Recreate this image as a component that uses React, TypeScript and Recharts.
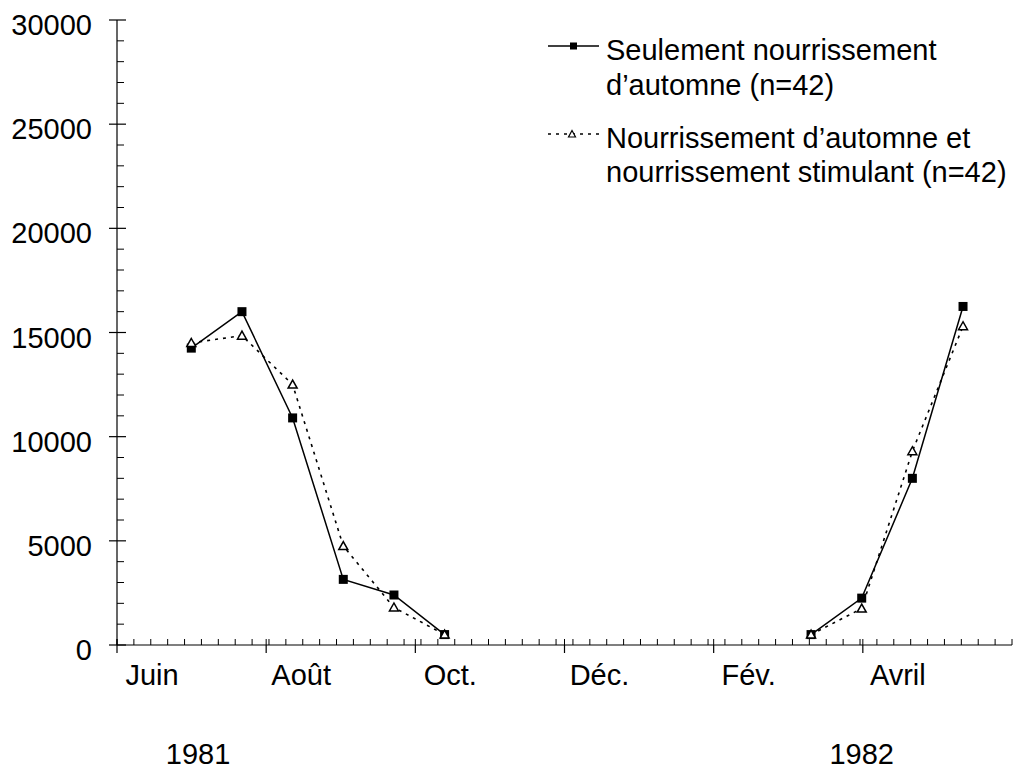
import { LineChart, Line, XAxis, YAxis } from "recharts";

// semaines depuis le 1er juin 1981 (53 semaines sur l'axe)
const WEEKS_1981 = [4.4, 7.4, 10.4, 13.4, 16.4, 19.4];
const WEEKS_1982 = [41.1, 44.1, 47.1, 50.1];

const AUTOMNE_1981 = [14250, 16000, 10900, 3150, 2400, 500];
const AUTOMNE_1982 = [500, 2250, 8000, 16250];
const STIMULANT_1981 = [14500, 14850, 12500, 4750, 1800, 500];
const STIMULANT_1982 = [500, 1750, 9300, 15300];

const MONTH_LABELS = ["Juin", "Août", "Oct.", "Déc.", "Fév.", "Avril"];
const MONTH_INDEX = [0, 2, 4, 6, 8, 10];
const YEAR_LABELS = ["1981", "1982"];
const YEAR_WEEKS = [4.8, 44.1];

const Y_MAJOR = [0, 5000, 10000, 15000, 20000, 25000, 30000];

const TOTAL_WEEKS = 53;
const WEEKS_PER_MONTH = TOTAL_WEEKS / 12;
const monthTicks = MONTH_INDEX.map((m) => m * WEEKS_PER_MONTH);
const weekTicks = Array.from({ length: TOTAL_WEEKS + 1 }, (_, i) => i);
const yAllTicks = Array.from({ length: 31 }, (_, i) => i * 1000);

const toRows = (weeks: number[], values: number[]) =>
  weeks.map((w, i) => ({ week: w, value: values[i] }));

const FONT = "'Liberation Sans', Arial, sans-serif";
const FS = 29;

const Square = (props: any) => {
  const { cx, cy, index } = props;
  if (cx == null || cy == null) return <g key={index} />;
  return <rect key={index} x={cx - 4.5} y={cy - 4.5} width={9} height={9} fill="#000" />;
};

const Triangle = (props: any) => {
  const { cx, cy, index } = props;
  if (cx == null || cy == null) return <g key={index} />;
  return (
    <polygon
      key={index}
      points={`${cx},${cy - 4.5} ${cx - 4.5},${cy + 3.5} ${cx + 4.5},${cy + 3.5}`}
      fill="#fff"
      stroke="#000"
      strokeWidth={1.5}
    />
  );
};

const MonthTick = (props: any) => {
  const { x, y, index } = props;
  return (
    <text x={x + 35} y={y + 32} textAnchor="middle" fontFamily={FONT} fontSize={FS} fill="#000">
      {MONTH_LABELS[index]}
    </text>
  );
};

// ticks intérieurs de l'axe X (semaines + mois) et années sous l'axe
const InnerXTick = (props: any) => {
  const { x, y, payload } = props;
  const yearIdx = YEAR_WEEKS.indexOf(payload.value);
  if (yearIdx >= 0) {
    return (
      <text x={x} y={y + 119} textAnchor="middle" fontFamily={FONT} fontSize={FS} fill="#000">
        {YEAR_LABELS[yearIdx]}
      </text>
    );
  }
  return <line x1={x} x2={x} y1={y} y2={y - 6} stroke="#000" strokeWidth={1} />;
};

// ticks intérieurs de l'axe Y
const InnerYTick = (props: any) => {
  const { x, y, payload } = props;
  const len = payload.value % 5000 === 0 ? 9 : 7;
  return <line x1={x} x2={x + len} y1={y} y2={y} stroke="#000" strokeWidth={payload.value % 5000 === 0 ? 1.2 : 1} />;
};

const ValueTick = (props: any) => {
  const { x, y, payload } = props;
  return (
    <text x={x} y={y + 15} textAnchor="end" fontFamily={FONT} fontSize={FS} fill="#000">
      {payload.value}
    </text>
  );
};

const LegendBox = () => (
  <svg
    width={1013}
    height={200}
    style={{ position: "absolute", left: 0, top: 0, pointerEvents: "none" }}
  >
    <line x1={548} y1={46} x2={599} y2={46} stroke="#000" strokeWidth={1.5} />
    <rect x={570} y={42.5} width={7} height={7} fill="#000" />
    <text fontFamily={FONT} fontSize={FS} fill="#000">
      <tspan x={606} y={60}>Seulement nourrissement</tspan>
      <tspan x={606} y={95}>d’automne (n=42)</tspan>
    </text>
    <line x1={548} y1={134} x2={599} y2={134} stroke="#000" strokeWidth={1.6} strokeDasharray="3 5" />
    <polygon points="572,130.5 568.5,137 575.5,137" fill="#fff" stroke="#000" strokeWidth={1.2} />
    <text fontFamily={FONT} fontSize={FS} fill="#000">
      <tspan x={606} y={148}>Nourrissement d’automne et</tspan>
      <tspan x={606} y={182}>nourrissement stimulant (n=42)</tspan>
    </text>
  </svg>
);

export default function App() {
  return (
    <div style={{ position: "absolute", left: 0, top: 0, width: 1013, height: 769, background: "#fff" }}>
      <LineChart width={1013} height={769} margin={{ top: 20, right: 1, left: 0, bottom: 64 }}>
        <XAxis
          dataKey="week"
          type="number"
          domain={[0, TOTAL_WEEKS]}
          allowDataOverflow
          ticks={monthTicks}
          interval={0}
          tickSize={8}
          tickMargin={0}
          height={60}
          tick={MonthTick}
          axisLine={{ stroke: "#000", strokeWidth: 1.2 }}
          tickLine={{ stroke: "#000", strokeWidth: 1.2 }}
        />
        <XAxis
          xAxisId="inner"
          dataKey="week"
          type="number"
          domain={[0, TOTAL_WEEKS]}
          allowDataOverflow
          mirror
          ticks={[...weekTicks, ...monthTicks, ...YEAR_WEEKS]}
          interval={0}
          tickSize={0}
          tickMargin={0}
          tick={InnerXTick}
          axisLine={false}
          tickLine={false}
        />
        <YAxis
          type="number"
          domain={[0, 30000]}
          allowDataOverflow
          ticks={Y_MAJOR}
          interval={0}
          width={117}
          tickSize={8}
          tickMargin={17}
          tick={ValueTick}
          axisLine={{ stroke: "#000", strokeWidth: 1.2 }}
          tickLine={{ stroke: "#000", strokeWidth: 1.2 }}
        />
        <YAxis
          yAxisId="inner"
          type="number"
          domain={[0, 30000]}
          allowDataOverflow
          mirror
          ticks={yAllTicks}
          interval={0}
          tickSize={0}
          tickMargin={0}
          tick={InnerYTick}
          axisLine={false}
          tickLine={false}
        />
        <Line
          data={toRows(WEEKS_1981, AUTOMNE_1981)}
          dataKey="value"
          stroke="#000"
          strokeWidth={1.5}
          dot={Square}
          activeDot={false}
          isAnimationActive={false}
        />
        <Line
          data={toRows(WEEKS_1982, AUTOMNE_1982)}
          dataKey="value"
          stroke="#000"
          strokeWidth={1.5}
          dot={Square}
          activeDot={false}
          isAnimationActive={false}
        />
        <Line
          data={toRows(WEEKS_1981, STIMULANT_1981)}
          dataKey="value"
          stroke="#000"
          strokeWidth={1.6}
          strokeDasharray="3 5"
          dot={Triangle}
          activeDot={false}
          isAnimationActive={false}
        />
        <Line
          data={toRows(WEEKS_1982, STIMULANT_1982)}
          dataKey="value"
          stroke="#000"
          strokeWidth={1.6}
          strokeDasharray="3 5"
          dot={Triangle}
          activeDot={false}
          isAnimationActive={false}
        />
      </LineChart>
      <LegendBox />
    </div>
  );
}
